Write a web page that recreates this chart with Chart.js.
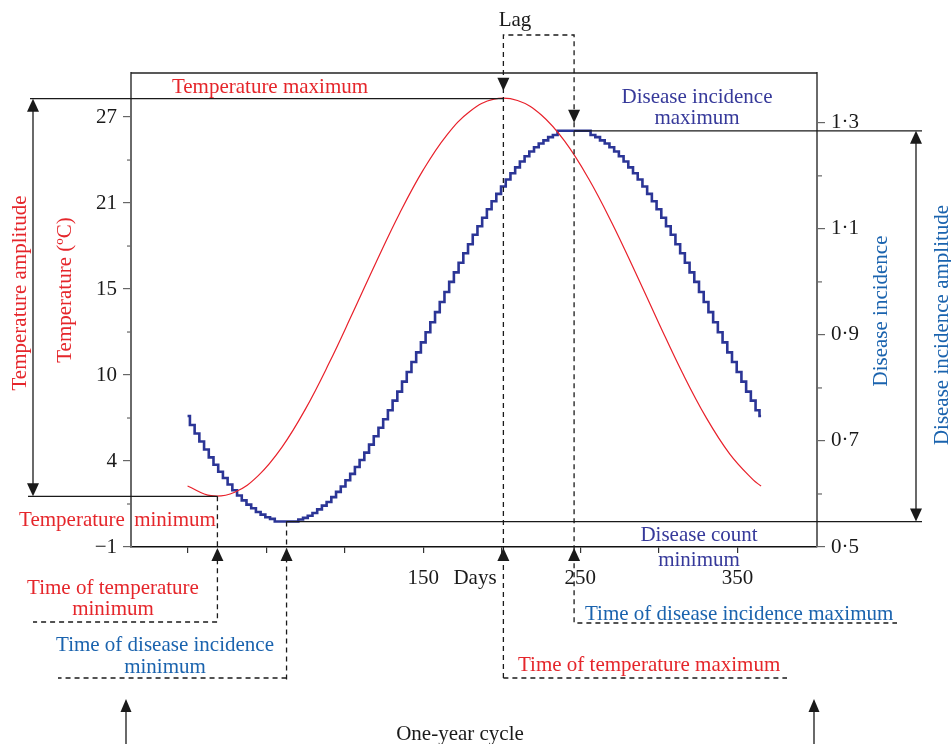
<!DOCTYPE html>
<html>
<head>
<meta charset="utf-8">
<script src="https://cdn.jsdelivr.net/npm/chart.js@4.4.1/dist/chart.umd.min.js"></script>
<style>
  html, body { margin: 0; padding: 0; background: #fff; }
  canvas { display: block; }
</style>
</head>
<body>
<canvas id="c" width="951" height="744"></canvas>
<script>
// ---------------- data ----------------
const tempDays   = [0, 15, 30, 45, 60, 75, 90, 105, 120, 135, 150, 165, 180, 195, 210, 225, 240, 255, 270, 285, 300, 315, 330, 345, 360, 365];
const tempValues = [2.97, 2.34, 2.57, 3.65, 5.49, 7.98, 10.96, 14.22, 17.55, 20.74, 23.56, 25.83, 27.40, 28.17, 28.08, 27.15, 25.43, 23.03, 20.12, 16.89, 13.56, 10.33, 7.44, 5.07, 3.37, 2.97];

const diseaseDays = [
  0, 3, 6, 9, 12, 15, 18, 21, 24, 27, 30, 33, 36, 39, 42, 45, 48, 51, 54, 57,
  60, 63, 66, 69, 72, 75, 78, 81, 84, 87, 90, 93, 96, 99, 102, 105, 108, 111, 114, 117,
  120, 123, 126, 129, 132, 135, 138, 141, 144, 147, 150, 153, 156, 159, 162, 165, 168, 171, 174, 177,
  180, 183, 186, 189, 192, 195, 198, 201, 204, 207, 210, 213, 216, 219, 222, 225, 228, 231, 234, 237,
  240, 243, 246, 249, 252, 255, 258, 261, 264, 267, 270, 273, 276, 279, 282, 285, 288, 291, 294, 297,
  300, 303, 306, 309, 312, 315, 318, 321, 324, 327, 330, 333, 336, 339, 342, 345, 348, 351, 354, 357,
  360, 363, 365];
const diseaseValues = [
  0.747, 0.730, 0.714, 0.699, 0.684, 0.669, 0.655, 0.642, 0.630, 0.618, 0.607, 0.597, 0.588, 0.580, 0.573, 0.566, 0.561, 0.556, 0.553, 0.548,
  0.548, 0.548, 0.548, 0.548, 0.552, 0.555, 0.559, 0.564, 0.571, 0.578, 0.585, 0.594, 0.604, 0.614, 0.626, 0.638, 0.651, 0.664, 0.678, 0.693,
  0.709, 0.725, 0.741, 0.758, 0.776, 0.793, 0.812, 0.830, 0.849, 0.867, 0.886, 0.905, 0.924, 0.943, 0.962, 0.981, 1.000, 1.018, 1.036, 1.054,
  1.071, 1.089, 1.105, 1.121, 1.137, 1.152, 1.166, 1.180, 1.193, 1.205, 1.216, 1.227, 1.237, 1.246, 1.254, 1.261, 1.267, 1.273, 1.277, 1.285,
  1.285, 1.285, 1.285, 1.285, 1.285, 1.285, 1.277, 1.273, 1.267, 1.261, 1.254, 1.246, 1.237, 1.227, 1.216, 1.205, 1.193, 1.180, 1.166, 1.152,
  1.137, 1.121, 1.105, 1.089, 1.071, 1.054, 1.036, 1.018, 1.000, 0.981, 0.962, 0.943, 0.924, 0.905, 0.886, 0.867, 0.849, 0.830, 0.812, 0.793,
  0.776, 0.758, 0.747];

// axis ticks
const xTickValues = [0, 50, 100, 150, 200, 250, 300, 350];
const xTickLabels = ['', '', '', '150', '', '250', '', '350'];
const tempTickValues = [-1, 4.6, 10.2, 15.8, 21.4, 27];
const tempTickLabels = ['\u22121', '4', '10', '15', '21', '27'];
const tempMinorTicks = [1.8, 7.4, 13, 18.6, 24.2];
const diseaseTickValues = [0.5, 0.7, 0.9, 1.1, 1.3];
const diseaseTickLabels = ['0\u00b75', '0\u00b77', '0\u00b79', '1\u00b71', '1\u00b73'];
const diseaseMinorTicks = [0.6, 0.8, 1.0, 1.2];

// key points
const tempMaxDay = 201, tempMaxValue = 28.2;
const tempMinDay = 19, tempMinValue = 2.3;
const diseaseMaxDay = 246, diseaseMaxValue = 1.285;
const diseaseMinDay = 63, diseaseMinValue = 0.548;

// ---------------- styles ----------------
const FONT = '"Liberation Serif", "Times New Roman", serif';
const RED = '#e5262b';
const NAVY = '#36399a';
const BLUE = '#1a63ae';
const INK = '#1a1a1a';

function setFont(ctx, size) { ctx.font = size + 'px ' + FONT; }

function seg(ctx, pts, opt) {
  ctx.save();
  ctx.strokeStyle = opt.color || INK;
  ctx.lineWidth = opt.width || 1.3;
  ctx.setLineDash(opt.dash ? [5, 4] : []);
  ctx.beginPath();
  ctx.moveTo(pts[0][0], pts[0][1]);
  for (let i = 1; i < pts.length; i++) ctx.lineTo(pts[i][0], pts[i][1]);
  ctx.stroke();
  ctx.restore();
}
function arrowHead(ctx, x, y, dir, w, h) {
  w = w || 12; h = h || 13;
  const s = dir === 'up' ? 1 : -1;
  ctx.save();
  ctx.fillStyle = INK;
  ctx.beginPath();
  ctx.moveTo(x, y);
  ctx.lineTo(x - w / 2, y + s * h);
  ctx.lineTo(x + w / 2, y + s * h);
  ctx.closePath();
  ctx.fill();
  ctx.restore();
}
function label(ctx, str, x, y, color, align, rot) {
  ctx.save();
  setFont(ctx, 21);
  ctx.fillStyle = color;
  ctx.textAlign = align || 'center';
  ctx.textBaseline = 'middle';
  ctx.translate(x, y);
  if (rot) ctx.rotate(-Math.PI / 2);
  ctx.fillText(str, 0, 0);
  ctx.restore();
}

const annotations = {
  id: 'annotations',
  afterDatasetsDraw(chart) {
    const ctx = chart.ctx;
    const a = chart.chartArea;
    const X = d => chart.scales.x.getPixelForValue(d);
    const YT = v => chart.scales.y.getPixelForValue(v);
    const YD = v => chart.scales.y1.getPixelForValue(v);

    const xTMax = X(tempMaxDay), yTMax = YT(tempMaxValue);
    const xTMin = X(tempMinDay), yTMin = YT(tempMinValue);
    const xDMax = X(diseaseMaxDay), yDMax = YD(diseaseMaxValue);
    const xDMin = X(diseaseMinDay), yDMin = YD(diseaseMinValue);

    // frame top line
    seg(ctx, [[a.left, a.top], [a.right, a.top]], { color: '#222', width: 1.4 });

    // minor ticks
    ctx.save();
    ctx.strokeStyle = '#666'; ctx.lineWidth = 1.2;
    tempMinorTicks.forEach(v => { const y = YT(v); ctx.beginPath(); ctx.moveTo(a.left - 4, y); ctx.lineTo(a.left, y); ctx.stroke(); });
    diseaseMinorTicks.forEach(v => { const y = YD(v); ctx.beginPath(); ctx.moveTo(a.right, y); ctx.lineTo(a.right + 5, y); ctx.stroke(); });
    ctx.restore();

    // solid reference lines
    seg(ctx, [[30, yTMax], [xTMax, yTMax]], {});
    seg(ctx, [[28, yTMin], [xTMin, yTMin]], {});
    seg(ctx, [[xDMax, yDMax], [922, yDMax]], {});
    seg(ctx, [[xDMin, yDMin], [922, yDMin]], {});

    // amplitude arrows
    seg(ctx, [[33, yTMax + 10], [33, yTMin - 10]], {});
    arrowHead(ctx, 33, yTMax, 'up');
    arrowHead(ctx, 33, yTMin, 'down');
    seg(ctx, [[916, yDMax + 10], [916, yDMin - 10]], {});
    arrowHead(ctx, 916, yDMax, 'up');
    arrowHead(ctx, 916, yDMin, 'down');

    // lag box
    const lagTop = 35;
    seg(ctx, [[xTMax, 678], [xTMax, lagTop], [xDMax, lagTop], [xDMax, 623], [897, 623]], { dash: true });
    seg(ctx, [[xTMax, 678], [787, 678]], { dash: true });
    arrowHead(ctx, xTMax, yTMax - 8, 'down');
    arrowHead(ctx, xDMax, yDMax - 8, 'down');

    // minimum time lines
    seg(ctx, [[xTMin, yTMin], [xTMin, 622], [33, 622]], { dash: true });
    seg(ctx, [[xDMin, yDMin], [xDMin, 683]], { dash: true });
    seg(ctx, [[xDMin, 678], [58, 678]], { dash: true });

    // up arrows at the x axis
    [xTMin, xDMin, xTMax, xDMax].forEach(x => arrowHead(ctx, x, a.bottom + 1, 'up'));

    // one-year cycle arrows
    seg(ctx, [[126, 744], [126, 708]], {});
    arrowHead(ctx, 126, 699, 'up', 11, 13);
    seg(ctx, [[814, 744], [814, 708]], {});
    arrowHead(ctx, 814, 699, 'up', 11, 13);

    // texts
    label(ctx, 'Lag', 515, 20, INK);
    label(ctx, 'Temperature maximum', 270, 87, RED);
    label(ctx, 'Disease incidence', 697, 97, NAVY);
    label(ctx, 'maximum', 697, 118, NAVY);
    label(ctx, 'Temperature', 72, 520, RED);
    label(ctx, 'minimum', 175, 520, RED);
    label(ctx, 'Disease count', 699, 535, NAVY);
    label(ctx, 'minimum', 699, 560, NAVY);
    label(ctx, 'Time of temperature', 113, 588, RED);
    label(ctx, 'minimum', 113, 609, RED);
    label(ctx, 'Time of disease incidence', 165, 645, BLUE);
    label(ctx, 'minimum', 165, 667, BLUE);
    label(ctx, 'Time of disease incidence maximum', 585, 614, BLUE, 'left');
    label(ctx, 'Time of temperature maximum', 518, 665, RED, 'left');
    label(ctx, 'One-year cycle', 460, 734, INK);
    label(ctx, 'Days', 475, 578, INK);
    label(ctx, 'Temperature (\u00baC)', 65, 290, RED, 'center', true);
    label(ctx, 'Temperature amplitude', 20, 293, RED, 'center', true);
    label(ctx, 'Disease incidence', 881, 311, BLUE, 'center', true);
    label(ctx, 'Disease incidence amplitude', 942, 325, BLUE, 'center', true);
  }
};

const tickFont = { family: FONT, size: 21 };

new Chart(document.getElementById('c'), {
  type: 'line',
  data: {
    datasets: [
      {
        label: 'Temperature',
        data: tempDays.map((d, i) => ({ x: d, y: tempValues[i] })),
        yAxisID: 'y',
        borderColor: '#e8202a',
        borderWidth: 1.2,
        pointRadius: 0,
        tension: 0.4,
        fill: false
      },
      {
        label: 'Disease incidence',
        data: diseaseDays.map((d, i) => ({ x: d, y: diseaseValues[i] })),
        yAxisID: 'y1',
        borderColor: '#2b3596',
        borderWidth: 2.6,
        pointRadius: 0,
        stepped: 'middle',
        fill: false
      }
    ]
  },
  options: {
    responsive: false,
    animation: false,
    events: [],
    layout: { padding: { top: 73, left: 0, right: 0, bottom: 0 } },
    plugins: { legend: { display: false }, tooltip: { enabled: false } },
    scales: {
      x: {
        type: 'linear', min: -36, max: 400.6,
        afterBuildTicks: s => { s.ticks = xTickValues.map(v => ({ value: v })); },
        afterFit: s => { s.height = 197; },
        ticks: { callback: (v, i) => xTickLabels[i], color: INK, font: tickFont, padding: 13, autoSkip: false, maxRotation: 0 },
        grid: { drawOnChartArea: false, drawTicks: true, tickLength: 6, color: '#333', lineWidth: 1.2 },
        border: { color: '#111', width: 1.5 }
      },
      y: {
        type: 'linear', position: 'left', min: -1, max: 29.87,
        afterBuildTicks: s => { s.ticks = tempTickValues.map(v => ({ value: v })); },
        afterFit: s => { s.width = 131; },
        ticks: { callback: (v, i) => tempTickLabels[i], color: INK, font: tickFont, padding: 6, autoSkip: false },
        grid: { drawOnChartArea: false, drawTicks: true, tickLength: 8, color: '#666', lineWidth: 1.2 },
        border: { color: '#6a6a6a', width: 2 }
      },
      y1: {
        type: 'linear', position: 'right', min: 0.5, max: 1.394,
        afterBuildTicks: s => { s.ticks = diseaseTickValues.map(v => ({ value: v })); },
        afterFit: s => { s.width = 134; },
        ticks: { callback: (v, i) => diseaseTickLabels[i], color: INK, font: tickFont, padding: 6, autoSkip: false },
        grid: { drawOnChartArea: false, drawTicks: true, tickLength: 8, color: '#666', lineWidth: 1.2 },
        border: { color: '#6a6a6a', width: 2 }
      }
    }
  },
  plugins: [annotations]
});
</script>
</body>
</html>
